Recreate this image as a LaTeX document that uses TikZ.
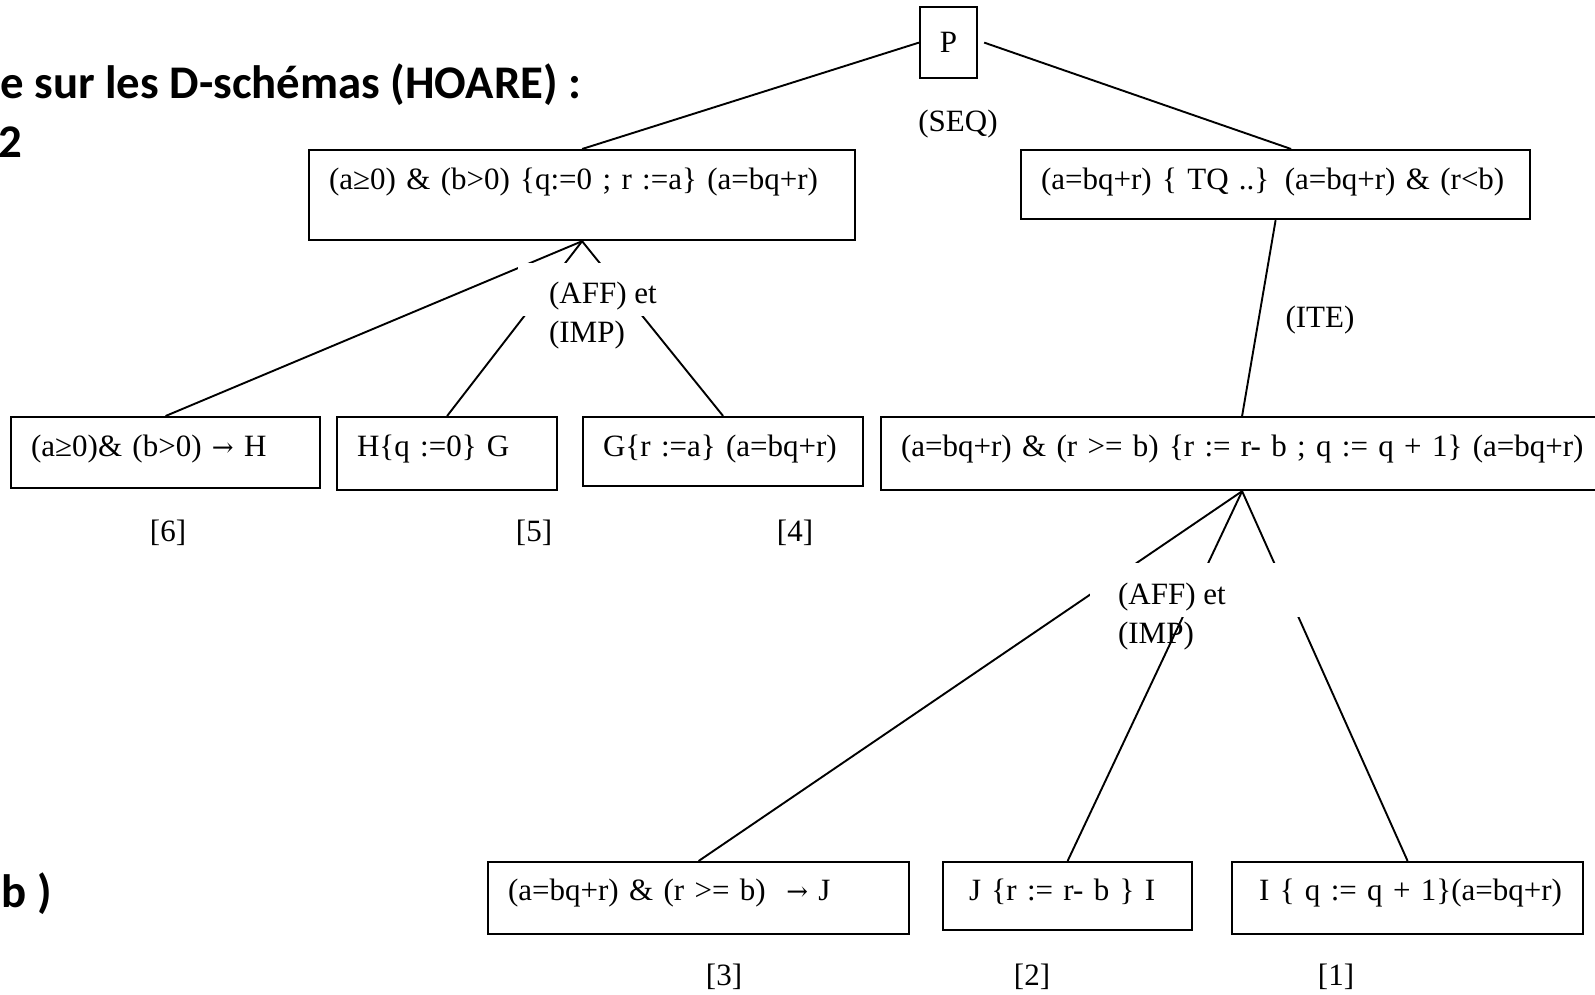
\documentclass[tikz,border=0pt]{standalone}
\usepackage{fontspec}
\setmainfont{Liberation Serif}
\newfontfamily\titlefont{Carlito}
\newfontfamily\arrowfont{DejaVu Serif}
\newcommand{\boxfont}{\fontsize{15.5pt}{19.5pt}\selectfont}
\newcommand{\headfont}{\titlefont\bfseries\fontsize{23.4pt}{28pt}\selectfont}
\newcommand{\implies}{{\arrowfont\fontsize{13pt}{16pt}\selectfont →}}

\tikzset{
  box/.style={draw, line width=1.1pt, anchor=north west, inner xsep=10pt, inner ysep=0pt,
    align=left, text height=19.5pt, font=\boxfont},
  pbox/.style={draw, line width=1.1pt, anchor=north west, inner sep=0pt,
    minimum width=28.5pt, minimum height=35.5pt, font=\boxfont},
  branch/.style={line width=0.95pt},
  mask/.style={fill=white, inner sep=0pt, anchor=north west},
  rule/.style={font=\boxfont, align=left, anchor=base west},
  tag/.style={font=\boxfont},
  head/.style={font=\headfont, anchor=base east, inner sep=0pt},
}

\begin{document}
\begin{tikzpicture}[x=0.5pt,y=-0.5pt]
\useasboundingbox (0,0) rectangle (1595,995);

\node[head] (title) at (582,99) {e sur les D-schémas (HOARE) :};
\node[head] (num) at (23,157) {2};
\node[head] (bpar) at (52,907) {b )};

\node[pbox] (p) at (919,6) {P};
\node[tag] (seq) at (958,124) {(SEQ)};

\node[box, text width=253pt, text depth=25.5pt] (seqa) at (308,149)
  {\mbox{(a≥0) \& (b>0) \{q:=0 ; r :=a\} (a=bq+r)}};
\node[box, text width=234.5pt, text depth=15pt] (seqb) at (1020,149)
  {\mbox{(a=bq+r) \{ TQ ..\} (a=bq+r) \& (r<b)}};

\node[box, text width=134.5pt, text depth=16pt] (h6) at (10,416)
  {\mbox{(a≥0)\& (b>0) \implies{} H}};
\node[box, text width=90pt, text depth=17pt] (g5) at (336,416)
  {\mbox{H\{q :=0\} G}};
\node[box, text width=120pt, text depth=15pt] (r4) at (582,416)
  {\mbox{G\{r :=a\} (a=bq+r)}};
\node[box, text width=341pt, text depth=17pt] (ite) at (880,416)
  {\mbox{(a=bq+r) \& (r >= b) \{r := r- b ; q := q + 1\} (a=bq+r)}};

\node[tag] (n6) at (168,533) {[6]};
\node[tag] (n5) at (534,533) {[5]};
\node[tag] (n4) at (795,533) {[4]};
\node[tag] (itelbl) at (1320,320) {(ITE)};

\node[box, text width=190.5pt, text height=19pt, text depth=17pt] (j3) at (487,861)
  {\mbox{(a=bq+r) \& (r >= b) \ \implies{} J}};
\node[box, inner xsep=13pt, text width=98.5pt, text height=19pt, text depth=15pt] (i2) at (942,861)
  {\mbox{J \{r := r- b \} I}};
\node[box, inner xsep=13.5pt, text width=148.5pt, text height=19pt, text depth=17pt] (q1) at (1231,861)
  {\mbox{I \{ q := q + 1\}(a=bq+r)}};

\node[tag] (n3) at (724,977) {[3]};
\node[tag] (n2) at (1032,977) {[2]};
\node[tag] (n1) at (1336,977) {[1]};

\draw[branch] (p.west) -- (seqa.north);
\draw[branch] ([xshift=3pt]p.east) -- ([xshift=7.75pt]seqb.north);
\draw[branch] (seqb.south) -- (ite.north);
\foreach \leaf in {h6,g5,r4}
  \draw[branch] (seqa.south) -- (\leaf.north);
\foreach \leaf in {j3,i2,q1}
  \draw[branch] (ite.south) -- (\leaf.north);

\node[mask, minimum width=70pt, minimum height=26.5pt] (maska) at (518,263) {};
\node[rule] (affa) at (542,342) {(AFF) et\\(IMP)};
\node[mask, minimum width=110pt, minimum height=27pt] (maskb) at (1090,563) {};
\node[rule] (affb) at (1111,643) {(AFF) et\\(IMP)};
\end{tikzpicture}
\end{document}
